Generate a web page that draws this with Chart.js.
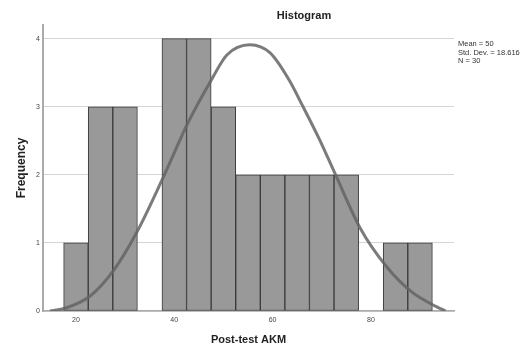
<!DOCTYPE html>
<html>
<head>
<meta charset="utf-8">
<script src="https://cdn.jsdelivr.net/npm/chart.js@4/dist/chart.umd.min.js"></script>
<style>
  html, body { margin: 0; padding: 0; background: #fff; }
  canvas { display: block; }
</style>
</head>
<body>
<canvas id="histChart" width="526" height="347"></canvas>
<script>
// bin centres (width 5) and counts
const binCenters = [20, 25, 30, 35, 40, 45, 50, 55, 60, 65, 70, 75, 80, 85, 90];
const binCounts  = [1, 3, 3, 0, 4, 4, 3, 2, 2, 2, 2, 2, 0, 1, 1];

// normal curve
const curveX = [14.7, 17.8, 22.9, 27.7, 32.4, 37.8, 42.9, 47.6, 50.7, 55.4, 59.5, 63.3, 66.2, 69.6, 73.0, 77.8, 83.2, 88.3, 93.4, 95.2];
const curveY = [0, 0.04, 0.22, 0.6, 1.16, 1.97, 2.78, 3.4, 3.76, 3.91, 3.79, 3.4, 3.0, 2.51, 1.97, 1.22, 0.65, 0.28, 0.06, 0];

const xTicks = [20, 40, 60, 80];
const yTicks = [0, 1, 2, 3, 4];

const chartTitle = 'Histogram';
const statLines = ['Mean = 50', 'Std. Dev. = 18.616', 'N = 30'];

const FONT = '"Liberation Sans", Arial, sans-serif';

const textPlugin = {
    id: 'spssText',
    afterDraw(chart) {
        const ctx = chart.ctx;
        ctx.save();
        ctx.fillStyle = '#222';
        ctx.font = 'bold 11px ' + FONT;
        ctx.textAlign = 'center';
        ctx.textBaseline = 'middle';
        ctx.fillText(chartTitle, 304, 16);

        ctx.fillStyle = '#333';
        ctx.font = '7.5px ' + FONT;
        ctx.textAlign = 'left';
        statLines.forEach(function(t, i) {
            ctx.fillText(t, 458, 44 + i * 8.5);
        });
        ctx.restore();
    }
};

const config = {
    type: 'bar',
    data: {
        datasets: [{
            type: 'line',
            data: curveX.map((x, i) => ({ x: x, y: curveY[i] })),
            borderColor: 'rgba(100,100,100,0.85)',
            borderWidth: 3,
            pointRadius: 0,
            cubicInterpolationMode: 'monotone',
            fill: false,
            order: 0
        }, {
            type: 'bar',
            data: binCenters.map((x, i) => ({ x: x, y: binCounts[i] })),
            backgroundColor: '#999999',
            borderColor: '#3a3a3a',
            borderWidth: 1,
            borderSkipped: false,
            barPercentage: 1,
            categoryPercentage: 1,
            order: 1
        }]
    },
    options: {
        responsive: false,
        animation: false,
        layout: { padding: { top: 25, right: 72, bottom: 0, left: 0 } },
        plugins: {
            legend: { display: false },
            title: { display: false },
            tooltip: { enabled: false }
        },
        scales: {
            x: {
                type: 'linear',
                offset: false,
                min: 13.3,
                max: 96.9,
                afterBuildTicks: function(scale) {
                    scale.ticks = xTicks.map(v => ({ value: v }));
                },
                afterFit: function(scale) { scale.height = 36; },
                grid: { display: false, drawTicks: false },
                border: { display: true, color: '#aaaaaa', width: 1.5 },
                ticks: {
                    padding: 5,
                    color: '#444',
                    font: { family: FONT, size: 7 },
                    maxRotation: 0
                },
                title: {
                    display: true,
                    text: 'Post-test AKM',
                    color: '#222',
                    font: { family: FONT, size: 11, weight: 'bold' },
                    padding: { top: 0, bottom: 0 }
                }
            },
            y: {
                min: 0,
                max: 4.2,
                afterBuildTicks: function(scale) {
                    scale.ticks = yTicks.map(v => ({ value: v }));
                },
                afterFit: function(scale) { scale.width = 43; },
                grid: { color: '#d4d4d4', lineWidth: 1, drawTicks: false },
                border: { display: true, color: '#aaaaaa', width: 2 },
                ticks: {
                    padding: 3,
                    color: '#444',
                    font: { family: FONT, size: 7 }
                },
                title: {
                    display: true,
                    text: 'Frequency',
                    color: '#222',
                    font: { family: FONT, size: 12, weight: 'bold' },
                    padding: { top: 14, bottom: 0 }
                }
            }
        }
    },
    plugins: [textPlugin]
};

const myChart = new Chart(document.getElementById('histChart'), config);
</script>
</body>
</html>
